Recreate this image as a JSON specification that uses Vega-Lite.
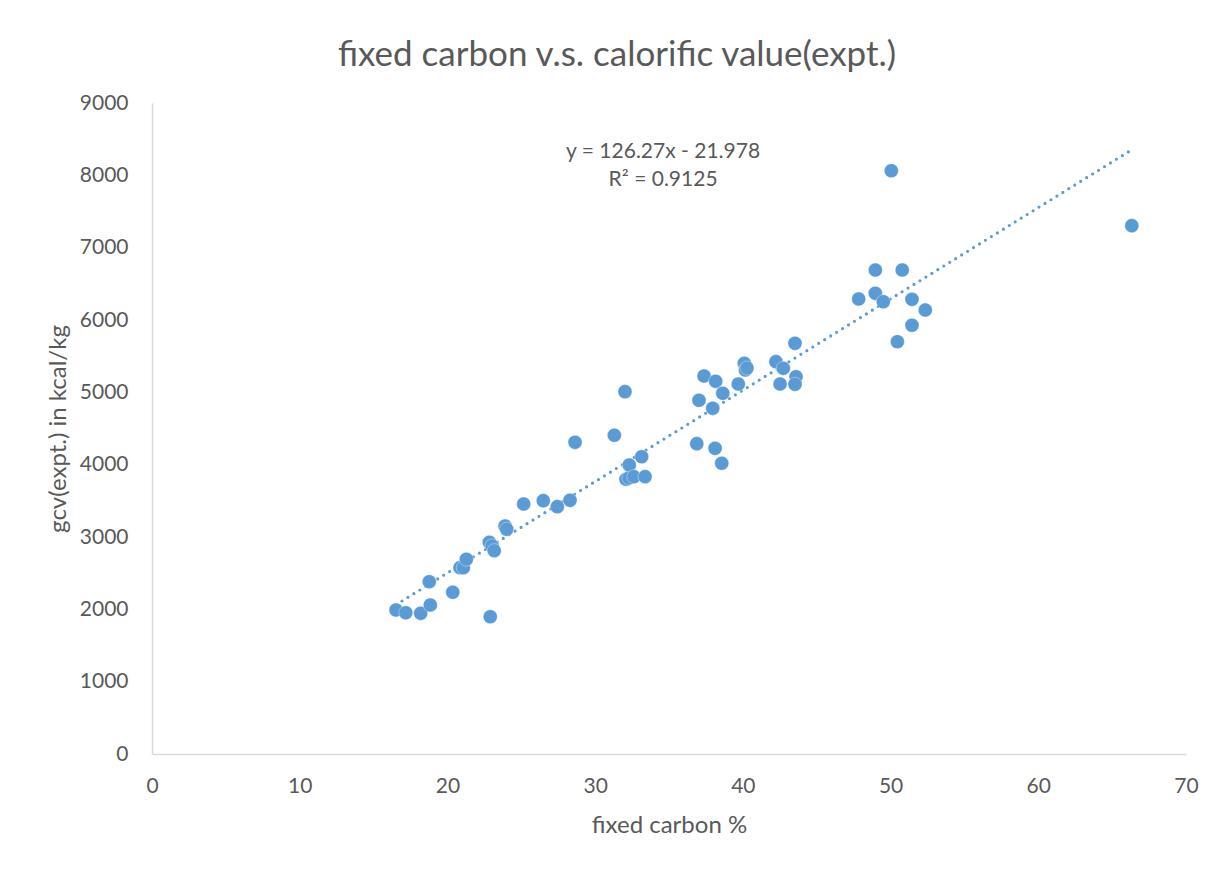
{
  "$schema": "https://vega.github.io/schema/vega-lite/v6.json",
  "autosize": {"type": "none"},
  "width": 1034,
  "height": 651,
  "padding": {"left": 152, "top": 103, "right": 32, "bottom": 115},
  "background": "white",
  "config": {
    "view": {"stroke": null},
    "font": "Lato",
    "axis": {"grid": false, "ticks": false, "labelFlush": false, "domainColor": "#d9d9d9", "domainWidth": 1.5, "labelColor": "#595959", "titleColor": "#595959", "labelFont": "Lato", "titleFont": "Lato", "labelFontSize": 21, "titleFontSize": 24, "titleFontWeight": "normal", "format": "d"}
  },
  "title": {"text": "fixed carbon v.s. calorific value(expt.)", "font": "Lato", "fontSize": 35, "fontWeight": "normal", "color": "#595959", "anchor": "middle", "offset": 19, "dx": -52},
  "datasets": {
    "pts": [
      {"fc": 16.52, "gcv": 1991}, {"fc": 17.18, "gcv": 1953}, {"fc": 18.19, "gcv": 1945}, {"fc": 18.84, "gcv": 2060},
      {"fc": 18.77, "gcv": 2382}, {"fc": 20.36, "gcv": 2236}, {"fc": 20.85, "gcv": 2576}, {"fc": 21.08, "gcv": 2576},
      {"fc": 21.28, "gcv": 2692}, {"fc": 22.90, "gcv": 1898}, {"fc": 22.84, "gcv": 2927}, {"fc": 23.02, "gcv": 2876},
      {"fc": 23.17, "gcv": 2811}, {"fc": 23.90, "gcv": 3152}, {"fc": 24.01, "gcv": 3107}, {"fc": 25.16, "gcv": 3456},
      {"fc": 26.49, "gcv": 3502}, {"fc": 27.44, "gcv": 3419}, {"fc": 28.30, "gcv": 3507}, {"fc": 28.64, "gcv": 4309},
      {"fc": 31.30, "gcv": 4406}, {"fc": 32.02, "gcv": 5009}, {"fc": 32.09, "gcv": 3798}, {"fc": 32.29, "gcv": 3816},
      {"fc": 32.31, "gcv": 3995}, {"fc": 32.62, "gcv": 3834}, {"fc": 33.15, "gcv": 4110}, {"fc": 33.38, "gcv": 3834},
      {"fc": 36.88, "gcv": 4290}, {"fc": 37.03, "gcv": 4890}, {"fc": 37.37, "gcv": 5226}, {"fc": 37.96, "gcv": 4779},
      {"fc": 38.16, "gcv": 5152}, {"fc": 38.12, "gcv": 4226}, {"fc": 38.57, "gcv": 4019}, {"fc": 38.64, "gcv": 4987},
      {"fc": 39.69, "gcv": 5115}, {"fc": 40.10, "gcv": 5401}, {"fc": 40.17, "gcv": 5309}, {"fc": 40.28, "gcv": 5336},
      {"fc": 42.24, "gcv": 5424}, {"fc": 42.74, "gcv": 5332}, {"fc": 42.52, "gcv": 5115}, {"fc": 43.53, "gcv": 5677},
      {"fc": 43.60, "gcv": 5216}, {"fc": 43.53, "gcv": 5111}, {"fc": 47.84, "gcv": 6291}, {"fc": 48.97, "gcv": 6691},
      {"fc": 48.97, "gcv": 6369}, {"fc": 49.51, "gcv": 6253}, {"fc": 50.05, "gcv": 8064}, {"fc": 50.46, "gcv": 5700},
      {"fc": 50.79, "gcv": 6691}, {"fc": 51.45, "gcv": 6286}, {"fc": 51.45, "gcv": 5927}, {"fc": 52.35, "gcv": 6138},
      {"fc": 66.33, "gcv": 7304}
    ],
    "trend": [
      {"fc": 16.52, "gcv": 2064.0},
      {"fc": 66.33, "gcv": 8353.5}
    ],
    "eq": [
      {"fc": 34.6, "gcv": 8323, "label": "y = 126.27x - 21.978"},
      {"fc": 34.6, "gcv": 7936, "label": "R² = 0.9125"}
    ]
  },
  "layer": [
    {
      "data": {"name": "trend"},
      "mark": {"type": "line", "color": "#5B9BD5", "strokeWidth": 3.2, "strokeDash": [0, 7], "strokeCap": "round"},
      "encoding": {
        "x": {"field": "fc", "type": "quantitative", "scale": {"domain": [0, 70]}, "axis": {"title": "fixed carbon %", "values": [0, 10, 20, 30, 40, 50, 60, 70], "labelPadding": 21, "titlePadding": 17}},
        "y": {"field": "gcv", "type": "quantitative", "scale": {"domain": [0, 9000]}, "axis": {"title": "gcv(expt.) in kcal/kg", "values": [0, 1000, 2000, 3000, 4000, 5000, 6000, 7000, 8000, 9000], "labelPadding": 24, "titlePadding": 9}}
      }
    },
    {
      "data": {"name": "pts"},
      "mark": {"type": "point", "shape": "circle", "filled": true, "opacity": 1, "size": 200, "color": "#5B9BD5", "stroke": "#ffffff", "strokeWidth": 0.6, "strokeOpacity": 0.6},
      "encoding": {
        "x": {"field": "fc", "type": "quantitative"},
        "y": {"field": "gcv", "type": "quantitative"}
      }
    },
    {
      "data": {"name": "eq"},
      "mark": {"type": "text", "font": "Lato", "fontSize": 21, "color": "#595959", "align": "center", "baseline": "middle"},
      "encoding": {
        "x": {"field": "fc", "type": "quantitative"},
        "y": {"field": "gcv", "type": "quantitative"},
        "text": {"field": "label"}
      }
    }
  ]
}
